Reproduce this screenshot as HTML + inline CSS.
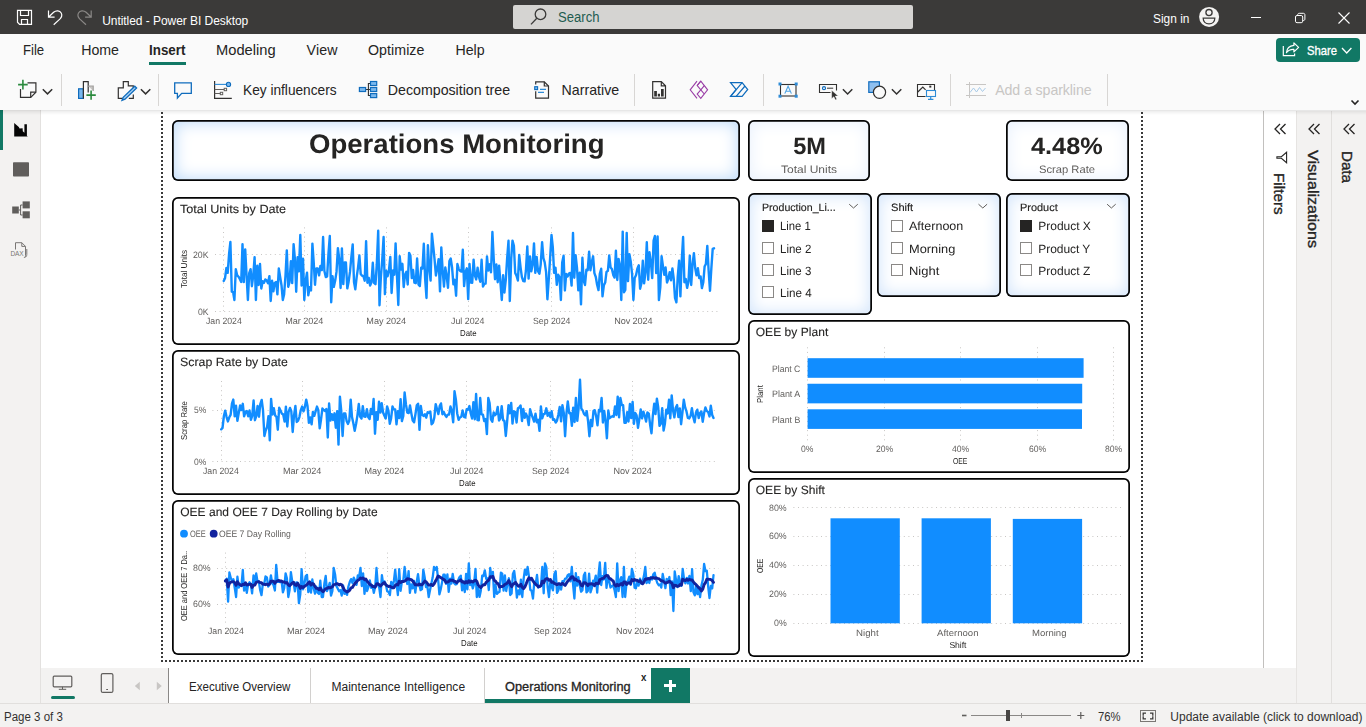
<!DOCTYPE html>
<html><head><meta charset="utf-8"><title>Untitled - Power BI Desktop</title>
<style>
html,body{margin:0;padding:0}
body{width:1366px;height:727px;overflow:hidden;position:relative;background:#fff;font-family:"Liberation Sans",sans-serif;color:#252423}
.a{position:absolute}
.t{position:absolute;white-space:nowrap;line-height:1}
#titlebar{left:0;top:0;width:1366px;height:34px;background:#3b3a39}
#menubar{left:0;top:34px;width:1366px;height:76px;background:#fafafa}
#ribshadow{left:0;top:110px;width:1366px;height:5px;background:linear-gradient(rgba(0,0,0,.11),rgba(0,0,0,.05) 35%,rgba(0,0,0,0))}
.menu{font-size:14.5px;top:43px;color:#252423}
.rt{font-size:14.5px;top:83px;color:#252423}
.sep{position:absolute;top:74px;width:1px;height:32px;background:#d8d6d4}
#leftbar{left:0;top:110px;width:41px;height:593px;background:#f3f2f1}
#status{left:0;top:703px;width:1366px;height:24px;background:#f3f2f1;border-top:1px solid #e1dfdd;box-sizing:border-box}
#tabbar{left:41px;top:668px;width:1223px;height:35px;background:#f3f2f1}
.tab{position:absolute;top:0;height:35px;background:#fff;border-right:1px solid #d2d0ce;box-sizing:border-box;font-size:12.5px}
.vbox{position:absolute;box-sizing:border-box;border-radius:6px;background:#fff}
svg{position:absolute;overflow:visible}
</style></head>
<body>

<!-- ===== title bar ===== -->
<div id="titlebar" class="a"></div>
<svg class="a" style="left:0;top:0" width="1366" height="34" viewBox="0 0 1366 34" fill="none" stroke="#fff" stroke-width="1.2">
 <!-- save -->
 <path d="M17.500 10.300H31.500V24.300H19.600L17.500 22.200Z M20.500 10.300V15.500H28.500V10.300 M21.500 24.300V19.500H27.500V24.300" stroke-linejoin="miter"/>
 <!-- undo -->
 <path d="M48.5 10.4 L48.5 17.1 L54.6 17.1 M48.9 16.7 L53.6 12.3 C56.2 10.0 59.8 10.5 61.2 13.0 C62.4 15.2 61.7 17.2 59.8 19.1 L53.7 24.7" stroke-linejoin="miter"/>
 <!-- redo -->
 <path stroke="#8a8886" d="M91.2 10.4 L91.2 17.1 L85.1 17.1 M90.8 16.7 L86.1 12.3 C83.5 10.0 79.9 10.5 78.5 13.0 C77.3 15.2 78.0 17.2 79.9 19.1 L86.0 24.7" stroke-linejoin="miter"/>
 <!-- search box -->
 <rect x="513" y="5" width="400" height="24" rx="2" fill="#d5d4d2" stroke="none"/>
 <circle cx="540.5" cy="14.3" r="5.3" stroke="#3b3a39" stroke-width="1.3"/>
 <path d="M536.8 18.2L531 24.4" stroke="#3b3a39" stroke-width="1.3"/>
 <!-- avatar -->
 <circle cx="1209.100" cy="16.900" r="10" fill="#f3f2f1" stroke="none"/>
 <circle cx="1209" cy="12.6" r="3.1" stroke="#3b3a39" stroke-width="1.3"/>
 <path d="M1203.2 18.2h11.6c0 3.4-2.4 5.6-5.8 5.6s-5.8-2.2-5.8-5.6z" stroke="#3b3a39" stroke-width="1.3"/>
 <!-- window controls -->
 <path d="M1251 17.5h10" stroke-width="1"/>
 <rect x="1295.500" y="15.500" width="7.200" height="7.200" rx="1.500" stroke-width="1"/>
 <path d="M1297.700 15.500v-.7c0-.9.6-1.500 1.500-1.500h4.200c.9 0 1.500.6 1.500 1.500v4.200c0 .9-.6 1.500-1.500 1.500h-.7" stroke-width="1"/>
 <path d="M1338.500 12.500l11 11M1349.500 12.500l-11 11" stroke-width="1.100"/>
</svg>

<!-- ===== menu bar + ribbon ===== -->
<div id="menubar" class="a"></div>
<div class="a" style="left:149px;top:62px;width:37px;height:3px;background:#117865"></div>
<!-- share -->
<div class="a" style="left:1276px;top:38px;width:84px;height:24px;background:#117865;border-radius:4px"></div>
<svg class="a" style="left:0;top:34px" width="1366" height="76" viewBox="0 34 1366 76" fill="none" stroke="#fff" stroke-width="1.2">
 <path d="M1283.300 46V55.700H1294.600V53.500" stroke-linejoin="miter"/>
 <path d="M1293.900 42.900L1298.600 47.400L1293.900 51.900V49.400C1290.600 49.200 1288.200 50.300 1286.400 52.700C1286.800 48.600 1289.600 45.800 1293.900 45.400Z" stroke-linejoin="round"/>
 <path d="M1342 48l4.700 5l4.700-5" stroke-width="1.300"/>
 <path d="M1351.500 100.500l3.500 3.500l3.500-3.500" stroke="#252423" stroke-width="1.6"/>
</svg>
<div class="sep" style="left:61px"></div>
<div class="sep" style="left:158px"></div>
<div class="sep" style="left:634px"></div>
<div class="sep" style="left:763px"></div>
<div class="sep" style="left:950px"></div>
<div class="sep" style="left:1107px"></div>

<svg class="a" style="left:0;top:68px" width="1366" height="42" viewBox="0 68 1366 42" fill="none" stroke="#323130" stroke-width="1.2">
 <!-- new page -->
 <path d="M27.5 82.800h8.400v9.400l-5.200 5.200h-10.200v-8.400"/>
 <path d="M35.900 92.200h-5.200v5.200" />
 <path d="M22.900 79.800v9.600M18.100 84.600h9.600" stroke="#2b8a3e" stroke-width="1.6"/>
 <path d="M42.800 89.200l4.700 4.700l4.700-4.700" stroke-width="1.5"/>
 <!-- new visual -->
 <rect x="78.600" y="88.800" width="4.800" height="9.600" fill="#7ab8ee" stroke="#0f6cbd"/>
 <path d="M83.400 98.400v-16.800h4.800v11"/>
 <path d="M88.200 86h5v5" stroke="#a19f9d" fill="#c8c6c4"/>
 <path d="M91.100 90.400v9.400M86.400 95.100h9.400" stroke="#2b8a3e" stroke-width="1.6"/>
 <!-- format visual -->
 <path d="M123.500 98.400h-5.200v-10.600h5v-6.200h5v4.200h5v4.500 M133.300 94.500v3.900h-4.500"/>
 <path d="M134.800 86.200l1.800 1.800l-11.600 11.200l-3 1.200l1.200-3z" stroke="#0f6cbd" fill="#a9d1f5" stroke-width="1.300"/>
 <path d="M140.900 89.200l4.700 4.700l4.700-4.700" stroke-width="1.5"/>
 <!-- comment (Q&A) -->
 <path d="M174.700 82.800h16.600v10.600h-9.600l-4.300 4.600v-4.600h-2.700z" stroke="#0f6cbd" stroke-width="1.300"/>
 <!-- key influencers -->
 <path d="M214.600 81v17.400h17.200"/>
 <path d="M214.600 84.400h11.600" stroke="#2e8bd6" stroke-width="1.1"/>
 <circle cx="228.500" cy="84.400" r="2.100" fill="#7ab8ee" stroke="#0f6cbd" stroke-width="1.100"/>
 <path d="M214.600 89.500h9.600M214.600 93.500h5.700" stroke="#605e5c" stroke-width="1"/>
 <rect x="224.200" y="88.300" width="2.400" height="2.400" stroke="#605e5c" stroke-width="1"/>
 <rect x="220.300" y="92.300" width="2.400" height="2.400" stroke="#605e5c" stroke-width="1"/>
 <!-- decomposition tree -->
 <path d="M366 89.500h4 M370 83.500h-1.600v12h1.600" stroke-width="1.100"/>
 <rect x="359.400" y="87.500" width="6.200" height="4" fill="#7ab8ee" stroke="#0f6cbd"/>
 <rect x="370.500" y="81.500" width="6.200" height="4" fill="#7ab8ee" stroke="#0f6cbd"/>
 <rect x="370.500" y="87.500" width="6.200" height="4" fill="#7ab8ee" stroke="#0f6cbd"/>
 <rect x="370.500" y="93.600" width="6.200" height="4" fill="#7ab8ee" stroke="#0f6cbd"/>
 <!-- narrative -->
 <path d="M535.700 84.600v-2.800h8.600l4.200 4.200v12.200h-12.800v-7"/>
 <path d="M544.300 81.800v4.200h4.200"/>
 <rect x="534.700" y="86.700" width="2.900" height="2.900" fill="#7ab8ee" stroke="#0f6cbd" stroke-width="1.100"/>
 <path d="M540 89.400h6M538 92.400h6" stroke="#2e8bd6" stroke-width="1.100"/>
 <!-- paginated report -->
 <path d="M652.700 81.600h8.600l4.200 4.200v12.400h-12.800z M661.300 81.600v4.200h4.200"/>
 <path d="M654.200 91h2.700v5.600h-2.700z M657.800 93.800h2.200v2.800h-2.200z M661 89h2.700v7.600h-2.700z" fill="#323130" stroke="none"/>
 <!-- power apps -->
 <g stroke="#9a3ea6" stroke-width="1.100">
 <path d="M697 81.200l-6.800 8.600l6.800 8.600"/>
 <path d="M700.800 81.200l6.800 8.600l-6.800 8.600l-3.600-4.300l3.600-4.300l-3.600-4.300z"/>
 <path d="M697.200 85.500l3.600-4.300 M700.800 89.800l3.500-4.200 M700.800 89.800l3.500 4.200"/>
 </g>
 <!-- power automate -->
 <g stroke="#0f6cbd" stroke-width="1.200">
 <path d="M730.500 82.600h11.600l5.600 6.900l-5.600 6.900h-11.600l5.700-6.900z"/>
 <path d="M742.100 82.600l-11.300 13.600 M745 86l-8.800 10.400"/>
 </g>
 <!-- text box -->
 <rect x="780.500" y="84.500" width="15.500" height="11.500" stroke-width="1.100"/>
 <g fill="#2e8bd6" stroke="none"><rect x="778.500" y="82.500" width="3" height="3"/><rect x="794.700" y="82.500" width="3" height="3"/><rect x="778.500" y="94.700" width="3" height="3"/><rect x="794.700" y="94.700" width="3" height="3"/></g>
 <path d="M784.800 93.600l3.300-7.400l3.300 7.400 M786 91.200h4.200" stroke="#4ea3e4" stroke-width="1.100"/>
 <!-- buttons -->
 <path d="M830.500 92.500H819.500V84.500H836.500V90.500" stroke-width="1.100"/>
 <circle cx="824" cy="88.200" r="1.500" stroke="#0f6cbd"/>
 <path d="M827 88.200h6.200" stroke-width="1"/>
 <path d="M831.600 90.200v8.600l2.200-2l1.600 3.200l1.500-.7l-1.600-3.200h3z" fill="#323130" stroke="#fff" stroke-width=".5"/>
 <path d="M842.900 89.300l4.700 4.700l4.700-4.700" stroke-width="1.500"/>
 <!-- shapes -->
 <rect x="868.800" y="81.800" width="10.600" height="10.600" fill="#8ec0f0" stroke="#0f6cbd"/>
 <circle cx="879.500" cy="92.300" r="6.100" fill="#fafafa"/>
 <path d="M891.900 89.300l4.700 4.700l4.700-4.700" stroke-width="1.500"/>
 <!-- image -->
 <path d="M925.500 96.500H917.500V84.500H934.500V90.500" stroke-width="1.100"/>
 <path d="M917.800 92l5-5l2.800 2.800"/>
 <rect x="929.300" y="85.600" width="2" height="2" fill="#323130" stroke="none"/>
 <rect x="926.500" y="90.500" width="9" height="6" fill="#fafafa" stroke="#2e8bd6" stroke-width="1.100"/>
 <path d="M930.700 96.400v3M928 99.400h5.400" stroke="#2e8bd6"/>
 <!-- sparkline (disabled) -->
 <g stroke="#c8c6c4" stroke-width="1"><path d="M969.500 82v16M966 84.500h20M966 95.500h20"/><path d="M970 92.500l3.500-4.500l3 4l3-4.500l3 4l3-3.500" stroke="#a9cbe8"/></g>
</svg>


<!-- ===== left bar ===== -->
<div id="leftbar" class="a"></div>
<div class="a" style="left:0;top:110px;width:3px;height:40px;background:#117865"></div>
<div class="a" style="left:40px;top:110px;width:1px;height:593px;background:#e3e1df"></div>

<svg class="a" style="left:0;top:110px" width="41" height="160" viewBox="0 110 41 160">
 <path d="M14.200 123.100L18.800 126.900L19.600 128.400L22.600 128.200L22.800 131.200L24.400 132.700V124.300H26.900V135.700L27.800 136.600H14.200Z" fill="#050505"/>
 <rect x="13" y="162.200" width="16" height="14.400" rx=".8" fill="#605e5c"/>
 <g fill="#605e5c"><rect x="12.200" y="206.500" width="6.600" height="7"/><rect x="22.600" y="201.400" width="7.200" height="7"/><rect x="22.600" y="211.300" width="7.200" height="7"/></g>
 <path d="M18.800 210h1.800v-5h2M20.600 210v5h2" fill="none" stroke="#605e5c" stroke-width="1"/>
 <path d="M15.500 249.500v-6.800h6.300l3.700 3.700v9.300c0 1.200-.7 1.800-1.600 1.800 M21.800 242.700v3.700h3.700 M26.800 249v5.400c0 1.600-.7 2.600-2 3" fill="none" stroke="#797775" stroke-width="1"/>
</svg>
<div class="t" style="left:10.500px;top:251px;font-size:6.500px;color:#797775;letter-spacing:-.2px">DAX</div>


<!-- ===== right panes ===== -->
<div class="a" style="left:1263px;top:111px;width:1px;height:557px;background:#c2c0be"></div>
<div class="a" style="left:1296px;top:111px;width:70px;height:592px;background:#f3f2f1"></div>
<div class="a" style="left:1331px;top:111px;width:1px;height:592px;background:#e1dfdd"></div>
<div class="a" style="left:1296px;top:111px;width:1px;height:592px;background:#e6e4e2"></div>

<svg class="a" style="left:1264px;top:111px" width="102" height="150" viewBox="1264 111 102 150" fill="none" stroke="#252423" stroke-width="1.300">
 <path d="M1280 124l-5 5l5 5M1285.500 124l-5 5l5 5"/>
 <path d="M1314 124l-5 5l5 5M1319.500 124l-5 5l5 5"/>
 <path d="M1349 124l-5 5l5 5M1354.500 124l-5 5l5 5"/>
 <path d="M1286.600 152.300V162.700L1281.400 158.300H1276.900V156.700H1281.400Z" stroke-width="1.100" stroke-linejoin="miter"/>
</svg>


<!-- ===== tabs / status ===== -->
<div id="tabbar" class="a"></div>
<div class="a" style="left:1264px;top:668px;width:32px;height:35px;background:#f3f2f1"></div>
<div class="a" style="left:168px;top:668px;width:1px;height:35px;background:#8a8886"></div>
<div class="tab" style="left:169px;top:668px;width:142px"></div>
<div class="tab" style="left:311px;top:668px;width:174px"></div>
<div class="tab" style="left:485px;top:668px;width:166px;border-right:none;border-bottom:4px solid #117865"></div>
<div class="a" style="left:651px;top:668px;width:39px;height:35px;background:#117865"></div>
<div class="a" style="left:664px;top:684px;width:12px;height:3px;background:#fff"></div>
<div class="a" style="left:668.500px;top:679.500px;width:3px;height:12px;background:#fff"></div>

<svg class="a" style="left:41px;top:668px" width="130" height="35" viewBox="41 668 130 35" fill="none" stroke="#605e5c" stroke-width="1.2">
 <rect x="53.200" y="676.200" width="18.600" height="10.600" rx="1"/>
 <path d="M62.500 686.800v2.400M58.800 689.300h7.400" stroke-width="1"/>
 <rect x="51" y="696" width="24" height="3" rx="1.500" fill="#117865" stroke="none"/>
 <rect x="101.300" y="673.600" width="11.600" height="18.800" rx="1.500"/>
 <path d="M106.200 689.500h1.800" stroke-width="1.100"/>
 <path d="M139.800 681.800v8.400l-5-4.200z M156.800 681.800v8.400l5-4.200z" fill="#c8c6c4" stroke="none"/>
</svg>

<div id="status" class="a"></div>

<svg class="a" style="left:950px;top:704px" width="220" height="23" viewBox="950 704 220 23" fill="none" stroke="#605e5c" stroke-width="1">
 <path d="M962 715.500h4.500" stroke-width="1.600"/>
 <path d="M971 715.500h100" stroke="#8a8886"/>
 <path d="M1021.500 713v5" stroke="#8a8886"/>
 <rect x="1006" y="710" width="4" height="11" fill="#484644" stroke="none"/>
 <path d="M1077.300 715.500h7M1080.800 712v7" stroke-width="1.200"/>
 <rect x="1140.500" y="710.500" width="15" height="11" stroke="#7a7774" stroke-width="1"/>
 <path d="M1146 713.200h-2.800v2.600M1150 713.200h2.800v2.600M1146 718.800h-2.800v-2.600M1150 718.800h2.800v-2.600" stroke="#3b3a39" stroke-width="1.300"/>
</svg>

<div class="t" style="left:102.2px;top:15px;font-size:12px;letter-spacing:-0.05px;color:#fff;">Untitled - Power BI Desktop</div>
<div class="t" style="left:557.5px;top:10px;font-size:14px;transform-origin:0 0;transform:scaleX(0.9355);color:#1f5c50;">Search</div>
<div class="t" style="left:1153px;top:13px;font-size:12.8px;transform-origin:0 0;transform:scaleX(0.9300);color:#fff;">Sign in</div>
<div class="t" style="left:22.6px;top:43px;font-size:14.2px;transform-origin:0 0;transform:scaleX(0.9268);color:#252423;">File</div>
<div class="t" style="left:81.2px;top:43px;font-size:14.2px;letter-spacing:-0.02px;color:#252423;">Home</div>
<div class="t" style="left:149.4px;top:43px;font-size:14.2px;transform-origin:0 0;transform:scaleX(0.9420);font-weight:bold;color:#252423;">Insert</div>
<div class="t" style="left:216.4px;top:43px;font-size:14.2px;transform-origin:0 0;transform:scaleX(1.0351);color:#252423;">Modeling</div>
<div class="t" style="left:306.6px;top:43px;font-size:14.2px;letter-spacing:0.1px;color:#252423;">View</div>
<div class="t" style="left:368px;top:43px;font-size:14.2px;letter-spacing:0.06px;color:#252423;">Optimize</div>
<div class="t" style="left:455.4px;top:43px;font-size:14.2px;color:#252423;">Help</div>
<div class="t" style="left:242.6px;top:83px;font-size:14.2px;transform-origin:0 0;transform:scaleX(0.9649);color:#252423;">Key influencers</div>
<div class="t" style="left:387.8px;top:83px;font-size:14.2px;color:#252423;">Decomposition tree</div>
<div class="t" style="left:561.6px;top:83px;font-size:14.2px;color:#252423;">Narrative</div>
<div class="t" style="left:995.2px;top:83px;font-size:14.2px;letter-spacing:-0.1px;color:#c8c6c4;">Add a sparkline</div>
<div class="t" style="left:1307px;top:45px;font-size:12.6px;transform-origin:0 0;transform:scaleX(0.8926);color:#fff;-webkit-text-stroke:.35px #fff;">Share</div>
<div class="t" style="left:189.3px;top:681px;font-size:12px;transform-origin:0 0;transform:scaleX(0.9623);color:#252423;">Executive Overview</div>
<div class="t" style="left:331.4px;top:681px;font-size:12px;letter-spacing:0.04px;color:#252423;">Maintenance Intelligence</div>
<div class="t" style="left:504.8px;top:681px;font-size:12px;transform-origin:0 0;transform:scaleX(1.0638);color:#252423;-webkit-text-stroke:.3px #252423;">Operations Monitoring</div>
<div class="t" style="left:640.8px;top:672px;font-size:10.5px;transform-origin:0 0;transform:scaleX(0.9241);font-weight:bold;color:#252423;">x</div>
<div class="t" style="left:4.3px;top:711px;font-size:12px;transform-origin:0 0;transform:scaleX(0.9594);color:#323130;">Page 3 of 3</div>
<div class="t" style="left:1098.2px;top:711px;font-size:12px;transform-origin:0 0;transform:scaleX(0.9404);color:#323130;">76%</div>
<div class="t" style="left:1170.3px;top:711px;font-size:12px;color:#323130;">Update available (click to download)</div>
<div class="t" style="font-size:15px;color:#252423;left:1287.1px;top:172.8px;transform-origin:0 0;transform:rotate(90deg) scaleX(1.0210);-webkit-text-stroke:.35px #252423;">Filters</div>
<div class="t" style="font-size:15px;color:#252423;left:1320.9px;top:150.2px;transform-origin:0 0;transform:rotate(90deg) scaleX(1.0716);-webkit-text-stroke:.35px #252423;">Visualizations</div>
<div class="t" style="font-size:15px;color:#252423;left:1354.9px;top:150.6px;transform-origin:0 0;transform:rotate(90deg) scaleX(1.0099);-webkit-text-stroke:.35px #252423;">Data</div>

<!-- ===== report canvas ===== -->
<div style="position:absolute;left:0;top:0;width:1366px;height:727px;will-change:transform;text-rendering:geometricPrecision">
<div class="a" style="left:161px;top:112px;width:2px;height:550px;background:repeating-linear-gradient(to bottom,#3a3a3a 0 2px,transparent 2px 4px)"></div>
<div class="a" style="left:1141px;top:112px;width:2px;height:550px;background:repeating-linear-gradient(to bottom,#3a3a3a 0 2px,transparent 2px 4px)"></div>
<div class="a" style="left:161px;top:660px;width:982px;height:2px;background:repeating-linear-gradient(to right,#3a3a3a 0 2px,transparent 2px 4px)"></div>
<div class="vbox" style="left:172.3px;top:120px;width:567.9px;height:61px;box-shadow:inset 0 0 0 1.75px #050505, inset 0 0 16px 3px #bfdbf9"></div>
<div class="t" style="left:309px;top:131px;font-size:26.8px;transform-origin:0 0;transform:scaleX(1.0285);font-weight:bold;color:#252423;">Operations Monitoring</div>
<div class="vbox" style="left:748px;top:119.9px;width:122.4px;height:61.2px;box-shadow:inset 0 0 0 1.75px #050505, inset 0 0 16px 3px #e9f1fd"></div>
<div class="t" style="left:793.2px;top:136px;font-size:23.6px;letter-spacing:0.02px;font-weight:bold;color:#252423;">5M</div>
<div class="t" style="left:781px;top:165px;font-size:10.8px;transform-origin:0 0;transform:scaleX(1.1110);color:#605e5c;">Total Units</div>
<div class="vbox" style="left:1006px;top:119.9px;width:122.5px;height:61.2px;box-shadow:inset 0 0 0 1.75px #050505, inset 0 0 16px 3px #e9f1fd"></div>
<div class="t" style="left:1031.3px;top:136px;font-size:23.6px;transform-origin:0 0;transform:scaleX(1.0716);font-weight:bold;color:#252423;">4.48%</div>
<div class="t" style="left:1039px;top:165px;font-size:10.8px;transform-origin:0 0;transform:scaleX(1.0367);color:#605e5c;">Scrap Rate</div>
<div class="vbox" style="left:748.2px;top:193.4px;width:123.5px;height:121.2px;box-shadow:inset 0 0 0 1.75px #050505, inset 0 0 16px 3px #d3e5fb"></div>
<div class="t" style="left:762px;top:203px;font-size:10.6px;color:#252423;-webkit-text-stroke:.15px #252423;">Production_Li...</div>
<svg style="left:0;top:0" width="1366" height="727"><path d="M849.2 204.200l4.300 3.800l4.300-3.800" fill="none" stroke="#605e5c" stroke-width="1"/></svg>
<div class="a" style="left:762px;top:220px;width:12px;height:12px;background:#252423"></div>
<div class="t" style="left:780.2px;top:220px;font-size:12px;transform-origin:0 0;transform:scaleX(0.9418);color:#252423;">Line 1</div>
<div class="a" style="left:762px;top:242px;width:12px;height:12px;box-shadow:inset 0 0 0 1px #8a8886;background:#fff"></div>
<div class="t" style="left:780.2px;top:243px;font-size:12px;transform-origin:0 0;transform:scaleX(0.9571);color:#252423;">Line 2</div>
<div class="a" style="left:762px;top:264px;width:12px;height:12px;box-shadow:inset 0 0 0 1px #8a8886;background:#fff"></div>
<div class="t" style="left:780.2px;top:265px;font-size:12px;transform-origin:0 0;transform:scaleX(0.9571);color:#252423;">Line 3</div>
<div class="a" style="left:762px;top:286px;width:12px;height:12px;box-shadow:inset 0 0 0 1px #8a8886;background:#fff"></div>
<div class="t" style="left:780.2px;top:287px;font-size:12px;transform-origin:0 0;transform:scaleX(0.9724);color:#252423;">Line 4</div>
<div class="vbox" style="left:877.2px;top:193.4px;width:123.8px;height:103.4px;box-shadow:inset 0 0 0 1.75px #050505, inset 0 0 16px 3px #d3e5fb"></div>
<div class="t" style="left:891px;top:203px;font-size:10.6px;transform-origin:0 0;transform:scaleX(1.0470);color:#252423;-webkit-text-stroke:.15px #252423;">Shift</div>
<svg style="left:0;top:0" width="1366" height="727"><path d="M978.5 204.200l4.300 3.800l4.300-3.800" fill="none" stroke="#605e5c" stroke-width="1"/></svg>
<div class="a" style="left:891px;top:220px;width:12px;height:12px;box-shadow:inset 0 0 0 1px #8a8886;background:#fff"></div>
<div class="t" style="left:909.2px;top:220px;font-size:12px;transform-origin:0 0;transform:scaleX(1.0433);color:#252423;">Afternoon</div>
<div class="a" style="left:891px;top:242px;width:12px;height:12px;box-shadow:inset 0 0 0 1px #8a8886;background:#fff"></div>
<div class="t" style="left:909.2px;top:243px;font-size:12px;transform-origin:0 0;transform:scaleX(1.0678);color:#252423;">Morning</div>
<div class="a" style="left:891px;top:264px;width:12px;height:12px;box-shadow:inset 0 0 0 1px #8a8886;background:#fff"></div>
<div class="t" style="left:909.2px;top:265px;font-size:12px;transform-origin:0 0;transform:scaleX(1.0815);color:#252423;">Night</div>
<div class="vbox" style="left:1006.3px;top:193.4px;width:123.3px;height:103.4px;box-shadow:inset 0 0 0 1.75px #050505, inset 0 0 16px 3px #d3e5fb"></div>
<div class="t" style="left:1020.1px;top:203px;font-size:10.6px;transform-origin:0 0;transform:scaleX(1.0324);color:#252423;-webkit-text-stroke:.15px #252423;">Product</div>
<svg style="left:0;top:0" width="1366" height="727"><path d="M1107.1 204.200l4.300 3.800l4.300-3.800" fill="none" stroke="#605e5c" stroke-width="1"/></svg>
<div class="a" style="left:1020px;top:220px;width:12px;height:12px;background:#252423"></div>
<div class="t" style="left:1038.3px;top:220px;font-size:12px;letter-spacing:-0.03px;color:#252423;">Product X</div>
<div class="a" style="left:1020px;top:242px;width:12px;height:12px;box-shadow:inset 0 0 0 1px #8a8886;background:#fff"></div>
<div class="t" style="left:1038.3px;top:243px;font-size:12px;letter-spacing:-0.06px;color:#252423;">Product Y</div>
<div class="a" style="left:1020px;top:264px;width:12px;height:12px;box-shadow:inset 0 0 0 1px #8a8886;background:#fff"></div>
<div class="t" style="left:1038.3px;top:265px;font-size:12px;color:#252423;">Product Z</div>
<div class="vbox" style="left:172.3px;top:197.2px;width:567.9px;height:147.9px;box-shadow:inset 0 0 0 1.75px #050505"></div>
<div class="t" style="left:180.2px;top:203px;font-size:12px;transform-origin:0 0;transform:scaleX(1.0534);color:#252423;-webkit-text-stroke:.1px #252423;">Total Units by Date</div>
<div class="t" style="font-size:8.6px;color:#252423;left:179.92px;top:288px;transform-origin:0 0;transform:rotate(-90deg) scaleX(0.9520);">Total Units</div>
<div class="t" style="left:192.6px;top:251px;font-size:9.2px;transform-origin:0 0;transform:scaleX(0.9536);color:#605e5c;">20K</div>
<div class="t" style="left:197.6px;top:308px;font-size:9.2px;transform-origin:0 0;transform:scaleX(0.9422);color:#605e5c;">0K</div>
<div class="t" style="left:205.8px;top:317px;font-size:9.1px;transform-origin:0 0;transform:scaleX(0.9567);color:#605e5c;">Jan 2024</div>
<div class="t" style="left:285.2px;top:317px;font-size:9.1px;letter-spacing:-0.03px;color:#605e5c;">Mar 2024</div>
<div class="t" style="left:366.34px;top:317px;font-size:9.1px;letter-spacing:-0.02px;color:#605e5c;">May 2024</div>
<div class="t" style="left:451.48px;top:317px;font-size:9.1px;transform-origin:0 0;transform:scaleX(0.9712);color:#605e5c;">Jul 2024</div>
<div class="t" style="left:532.77px;top:317px;font-size:9.1px;transform-origin:0 0;transform:scaleX(0.9605);color:#605e5c;">Sep 2024</div>
<div class="t" style="left:614.31px;top:317px;font-size:9.1px;letter-spacing:-0.11px;color:#605e5c;">Nov 2024</div>
<svg style="left:0;top:0" width="1366" height="727"><path d="M215 254.5H720.5" stroke="#c8c6c4" stroke-width="1" stroke-dasharray="1 3.600" fill="none"/><path d="M215 311.5H720.5" stroke="#c8c6c4" stroke-width="1" stroke-dasharray="1 3.600" fill="none"/><path d="M223.5 227.4V311" stroke="#c8c6c4" stroke-width="1" stroke-dasharray="1 3.600" fill="none"/><path d="M304.5 227.4V311" stroke="#c8c6c4" stroke-width="1" stroke-dasharray="1 3.600" fill="none"/><path d="M386.5 227.4V311" stroke="#c8c6c4" stroke-width="1" stroke-dasharray="1 3.600" fill="none"/><path d="M468.5 227.4V311" stroke="#c8c6c4" stroke-width="1" stroke-dasharray="1 3.600" fill="none"/><path d="M551.5 227.4V311" stroke="#c8c6c4" stroke-width="1" stroke-dasharray="1 3.600" fill="none"/><path d="M633.5 227.4V311" stroke="#c8c6c4" stroke-width="1" stroke-dasharray="1 3.600" fill="none"/><path d="M223.7 281 L225 278.3 L226.4 268 L227.7 272.9 L229.1 253.7 L230.4 242 L231.8 291.6 L233.1 292.1 L234.4 300 L235.8 269.2 L237.1 275.1 L238.5 276.7 L239.8 279 L241.2 282 L242.5 244.2 L243.8 282.1 L245.2 249.4 L246.5 274 L247.9 300 L249.2 273.2 L250.6 269.2 L251.9 286.2 L253.3 275.2 L254.6 257.2 L255.9 300 L257.3 265.6 L258.6 285 L260 264 L261.3 288.5 L262.7 281.2 L264 282.8 L265.3 279.4 L266.7 280.4 L268 283.3 L269.4 276.1 L270.7 301 L272.1 280.8 L273.4 291.4 L274.7 282.9 L276.1 282 L277.4 294.4 L278.8 268.5 L280.1 276.8 L281.5 285.2 L282.8 300 L284.1 294.4 L285.5 275.5 L286.8 250.4 L288.2 286.8 L289.5 282.2 L290.9 261.3 L292.2 283.1 L293.6 244.1 L294.9 258.9 L296.2 291.8 L297.6 257.3 L298.9 271.4 L300.3 235 L301.6 285.5 L303 258.7 L304.3 300 L305.6 281.1 L307 272.6 L308.3 295.4 L309.7 287.3 L311 290.4 L312.4 243.6 L313.7 262.1 L315 284.8 L316.4 268.4 L317.7 268.5 L319.1 275.4 L320.4 266 L321.8 270.1 L323.1 237 L324.4 271 L325.8 277.1 L327.1 276.4 L328.5 253.2 L329.8 236 L331.2 302.3 L332.5 276.1 L333.8 286.9 L335.2 280.6 L336.5 271.9 L337.9 248.1 L339.2 258.9 L340.6 288 L341.9 248.4 L343.3 284.1 L344.6 262.4 L345.9 262.4 L347.3 288.4 L348.6 281.9 L350 271.7 L351.3 257.6 L352.7 244.4 L354 282 L355.3 289.3 L356.7 276.9 L358 267.8 L359.4 255.5 L360.7 273.9 L362.1 275.7 L363.4 276.1 L364.7 280.7 L366.1 241.2 L367.4 282.7 L368.8 277.9 L370.1 285.6 L371.5 282.3 L372.8 262.8 L374.1 282.8 L375.5 284.2 L376.8 264.2 L378.2 230.8 L379.5 305.3 L380.9 276.8 L382.2 260.3 L383.6 237 L384.9 294.1 L386.2 270.7 L387.6 276.3 L388.9 270.5 L390.3 256.9 L391.6 293 L393 270.4 L394.3 274.7 L395.6 243.4 L397 276.8 L398.3 305 L399.7 256.3 L401 269.6 L402.4 263.8 L403.7 287 L405 274.9 L406.4 271.8 L407.7 284.5 L409.1 252.9 L410.4 255.5 L411.8 278.1 L413.1 270 L414.4 282.7 L415.8 283.2 L417.1 258.5 L418.5 284.4 L419.8 286.1 L421.2 267.6 L422.5 268.6 L423.8 243.7 L425.2 279.6 L426.5 298 L427.9 245.3 L429.2 267.2 L430.6 280.6 L431.9 233.7 L433.3 246.9 L434.6 259.8 L435.9 275.5 L437.3 268.3 L438.6 259.1 L440 291.4 L441.3 247.4 L442.7 271.2 L444 286.6 L445.3 267.5 L446.7 276.5 L448 287.8 L449.4 261 L450.7 258.5 L452.1 267.8 L453.4 284.4 L454.7 279.8 L456.1 295.7 L457.4 264 L458.8 269.1 L460.1 270.9 L461.5 271.6 L462.8 249.7 L464.1 286.1 L465.5 271.8 L466.8 268.3 L468.2 299.1 L469.5 263.9 L470.9 282.6 L472.2 282.8 L473.6 259.6 L474.9 275.5 L476.2 279.4 L477.6 267.6 L478.9 276.8 L480.3 281.8 L481.6 259.7 L483 286.6 L484.3 283.9 L485.6 283.6 L487 256.5 L488.3 270.6 L489.7 264.3 L491 272.2 L492.4 232 L493.7 258.3 L495 279.2 L496.4 264.5 L497.7 282.2 L499.1 265.7 L500.4 282.2 L501.8 300 L503.1 275.2 L504.4 292.5 L505.8 279.9 L507.1 258.8 L508.5 240.8 L509.8 301 L511.2 258.9 L512.5 240.6 L513.9 245.9 L515.2 273 L516.5 275.6 L517.9 280.5 L519.2 255 L520.6 267.6 L521.9 277.1 L523.3 281.1 L524.6 281.4 L525.9 270.7 L527.3 246.4 L528.6 278.6 L530 256.4 L531.3 271.3 L532.7 264.3 L534 243.4 L535.3 272.9 L536.7 257 L538 271.1 L539.4 273.8 L540.7 264.7 L542.1 242.2 L543.4 258 L544.7 262.4 L546.1 272.1 L547.4 299.3 L548.8 278.6 L550.1 258.4 L551.5 235 L552.8 247.2 L554.1 272.9 L555.5 267.7 L556.8 284.8 L558.2 274.7 L559.5 277.1 L560.9 300 L562.2 262.4 L563.6 255.7 L564.9 290.5 L566.2 274 L567.6 276.5 L568.9 273.6 L570.3 272.9 L571.6 285.6 L573 232.9 L574.3 277.7 L575.6 255.1 L577 267.9 L578.3 290.4 L579.7 272.8 L581 304.4 L582.4 257.8 L583.7 281 L585 285 L586.4 269.6 L587.7 270.3 L589.1 251.8 L590.4 270.2 L591.8 262 L593.1 256.3 L594.4 273.2 L595.8 277 L597.1 284.7 L598.5 290.1 L599.8 273.9 L601.2 268.7 L602.5 296.4 L603.9 285.1 L605.2 282.5 L606.5 271.9 L607.9 270.8 L609.2 255.5 L610.6 267.4 L611.9 269 L613.3 275.1 L614.6 277.6 L615.9 250.8 L617.3 280 L618.6 258.9 L620 265.4 L621.3 300 L622.7 231.6 L624 292.3 L625.3 289.9 L626.7 232.9 L628 281.1 L629.4 254.2 L630.7 261.1 L632.1 274.2 L633.4 300 L634.7 277.9 L636.1 275 L637.4 268.5 L638.8 265.3 L640.1 288.8 L641.5 282.9 L642.8 260.7 L644.1 283.4 L645.5 272.3 L646.8 242.2 L648.2 279.8 L649.5 252.3 L650.9 262.5 L652.2 278.1 L653.6 240.5 L654.9 236 L656.2 273.1 L657.6 236.5 L658.9 300 L660.3 287.4 L661.6 256.3 L663 266.5 L664.3 274.7 L665.6 267.5 L667 282.5 L668.3 278.8 L669.7 272.1 L671 280.3 L672.4 268.4 L673.7 278.3 L675 297.8 L676.4 302.3 L677.7 277.2 L679.1 260.6 L680.4 296.4 L681.8 259.9 L683.1 237 L684.4 282.2 L685.8 279 L687.1 287.9 L688.5 281.6 L689.8 255.6 L691.2 285 L692.5 264.8 L693.9 253.2 L695.2 268.1 L696.5 275.4 L697.9 268.3 L699.2 278.1 L700.6 276.4 L701.9 288.1 L703.3 282.3 L704.6 266.6 L705.9 263.9 L707.3 245.9 L708.6 270.2 L710 290.8 L711.3 269.1 L712.7 248.9 L714 248.3" fill="none" stroke="#118DFF" stroke-width="2.4" stroke-linejoin="round" stroke-linecap="round"/></svg>
<div class="t" style="left:459.6px;top:329px;font-size:8.6px;transform-origin:0 0;transform:scaleX(0.9143);color:#252423;">Date</div>
<div class="vbox" style="left:172.3px;top:350px;width:567.9px;height:145.1px;box-shadow:inset 0 0 0 1.75px #050505"></div>
<div class="t" style="left:180.2px;top:356px;font-size:12px;transform-origin:0 0;transform:scaleX(1.0294);color:#252423;-webkit-text-stroke:.1px #252423;">Scrap Rate by Date</div>
<div class="t" style="font-size:8.6px;color:#252423;left:179.92px;top:439.9px;transform-origin:0 0;transform:rotate(-90deg) scaleX(0.9023);">Scrap Rate</div>
<div class="t" style="left:193.5px;top:406px;font-size:9.2px;transform-origin:0 0;transform:scaleX(0.9261);color:#605e5c;">5%</div>
<div class="t" style="left:193.5px;top:458px;font-size:9.2px;transform-origin:0 0;transform:scaleX(0.9261);color:#605e5c;">0%</div>
<div class="t" style="left:203.3px;top:467px;font-size:9.1px;transform-origin:0 0;transform:scaleX(0.9567);color:#605e5c;">Jan 2024</div>
<div class="t" style="left:283.04px;top:467px;font-size:9.1px;letter-spacing:-0.03px;color:#605e5c;">Mar 2024</div>
<div class="t" style="left:364.53px;top:467px;font-size:9.1px;letter-spacing:-0.02px;color:#605e5c;">May 2024</div>
<div class="t" style="left:450.02px;top:467px;font-size:9.1px;transform-origin:0 0;transform:scaleX(0.9712);color:#605e5c;">Jul 2024</div>
<div class="t" style="left:531.66px;top:467px;font-size:9.1px;transform-origin:0 0;transform:scaleX(0.9605);color:#605e5c;">Sep 2024</div>
<div class="t" style="left:613.54px;top:467px;font-size:9.1px;letter-spacing:-0.11px;color:#605e5c;">Nov 2024</div>
<svg style="left:0;top:0" width="1366" height="727"><path d="M212.4 410.5H717.5" stroke="#c8c6c4" stroke-width="1" stroke-dasharray="1 3.600" fill="none"/><path d="M212.4 461.5H717.5" stroke="#c8c6c4" stroke-width="1" stroke-dasharray="1 3.600" fill="none"/><path d="M221.5 381V461.2" stroke="#c8c6c4" stroke-width="1" stroke-dasharray="1 3.600" fill="none"/><path d="M302.5 381V461.2" stroke="#c8c6c4" stroke-width="1" stroke-dasharray="1 3.600" fill="none"/><path d="M384.5 381V461.2" stroke="#c8c6c4" stroke-width="1" stroke-dasharray="1 3.600" fill="none"/><path d="M466.5 381V461.2" stroke="#c8c6c4" stroke-width="1" stroke-dasharray="1 3.600" fill="none"/><path d="M550.5 381V461.2" stroke="#c8c6c4" stroke-width="1" stroke-dasharray="1 3.600" fill="none"/><path d="M632.5 381V461.2" stroke="#c8c6c4" stroke-width="1" stroke-dasharray="1 3.600" fill="none"/><path d="M221.2 429.3 L222.5 428 L223.9 416 L225.2 410.6 L226.6 417.1 L227.9 421.4 L229.3 417.3 L230.6 414.9 L232 403.5 L233.3 399.6 L234.7 416.4 L236 405.6 L237.4 420.8 L238.7 413.3 L240.1 405.5 L241.4 410.1 L242.8 403.8 L244.1 416.3 L245.5 411.8 L246.8 411.1 L248.2 416.3 L249.5 410.4 L250.9 419.8 L252.2 415.8 L253.6 400.5 L254.9 420.2 L256.3 416 L257.6 406 L259 416.7 L260.3 404.1 L261.7 399.9 L263 410.2 L264.4 436 L265.7 430.5 L267.1 426.8 L268.4 416.3 L269.8 440.4 L271.1 398.9 L272.5 414.5 L273.8 408.2 L275.2 415.4 L276.5 417 L277.8 429.7 L279.2 407.7 L280.5 410.4 L281.9 413.7 L283.2 414.4 L284.6 421.6 L285.9 406.6 L287.3 426.5 L288.6 411.8 L290 408 L291.3 411.3 L292.7 432 L294 415.7 L295.4 405.9 L296.7 422 L298.1 420.6 L299.4 417.1 L300.8 410.1 L302.1 406.6 L303.5 411.3 L304.8 407.2 L306.2 399.6 L307.5 405.9 L308.9 422.8 L310.2 417.5 L311.6 424.3 L312.9 412 L314.3 415.8 L315.6 411.3 L317 406.6 L318.3 410.2 L319.7 428.4 L321 419.7 L322.4 408.5 L323.7 410 L325.1 411 L326.4 409 L327.8 437.5 L329.1 403.5 L330.5 420.6 L331.8 414.3 L333.1 420 L334.5 413.3 L335.8 427.7 L337.2 411.1 L338.5 444.6 L339.9 396.7 L341.2 410.4 L342.6 436 L343.9 413.4 L345.3 413.5 L346.6 420.9 L348 423.9 L349.3 420.5 L350.7 399.6 L352 417.1 L353.4 423.5 L354.7 430.8 L356.1 423.8 L357.4 415.6 L358.8 404 L360.1 416.6 L361.5 418.5 L362.8 406.2 L364.2 416.5 L365.5 416.7 L366.9 409.2 L368.2 417.1 L369.6 419.1 L370.9 408.9 L372.3 414 L373.6 399 L375 433.7 L376.3 412.3 L377.7 419.7 L379 401.8 L380.4 412.6 L381.7 403.2 L383.1 412.5 L384.4 415.8 L385.7 418.5 L387.1 406.4 L388.4 410.5 L389.8 423.8 L391.1 418.4 L392.5 406.5 L393.8 409.4 L395.2 409.5 L396.5 424.4 L397.9 411.3 L399.2 418.1 L400.6 399.1 L401.9 421.1 L403.3 415.9 L404.6 392.5 L406 404.7 L407.3 412.5 L408.7 413 L410 405.5 L411.4 413.6 L412.7 420.4 L414.1 422.2 L415.4 414.5 L416.8 405.2 L418.1 403.7 L419.5 429.9 L420.8 406 L422.2 414.9 L423.5 415.9 L424.9 414.2 L426.2 417.7 L427.6 412.2 L428.9 412.8 L430.3 411.6 L431.6 424.3 L433 422.7 L434.3 417.6 L435.7 404.1 L437 409.1 L438.4 414.1 L439.7 406.1 L441 403.4 L442.4 414.2 L443.7 411.9 L445.1 415 L446.4 416.9 L447.8 414.6 L449.1 414.5 L450.5 406.5 L451.8 410.8 L453.2 422.3 L454.5 391.2 L455.9 399.8 L457.2 413.4 L458.6 419.8 L459.9 417.5 L461.3 416.8 L462.6 410.5 L464 416.8 L465.3 417.4 L466.7 409.1 L468 409.8 L469.4 406.1 L470.7 413.3 L472.1 418.5 L473.4 402.1 L474.8 419.3 L476.1 394 L477.5 420.1 L478.8 420.3 L480.2 398 L481.5 414.4 L482.9 414.6 L484.2 421 L485.6 419.1 L486.9 434.1 L488.3 398 L489.6 403 L491 419.5 L492.3 421.7 L493.7 412.4 L495 415.2 L496.3 413.9 L497.7 406.9 L499 420.5 L500.4 418.4 L501.7 406.2 L503.1 420.2 L504.4 420.9 L505.8 436 L507.1 421.9 L508.5 405.3 L509.8 413.2 L511.2 402.9 L512.5 423.6 L513.9 411.3 L515.2 412 L516.6 422.5 L517.9 408.3 L519.3 407.4 L520.6 405.5 L522 421 L523.3 408.9 L524.7 417.8 L526 413.6 L527.4 417.2 L528.7 425.1 L530.1 409.2 L531.4 414 L532.8 417.8 L534.1 421.6 L535.5 413.8 L536.8 422.4 L538.2 419.8 L539.5 430.9 L540.9 406.4 L542.2 418.3 L543.6 414.1 L544.9 413.8 L546.3 408.3 L547.6 415.8 L549 412.7 L550.3 416.9 L551.6 411.2 L553 419.9 L554.3 419.3 L555.7 422.6 L557 420.5 L558.4 414.4 L559.7 407 L561.1 421.4 L562.4 405.3 L563.8 412.9 L565.1 436.2 L566.5 412.9 L567.8 401.5 L569.2 413.2 L570.5 412.9 L571.9 425.8 L573.2 407.7 L574.6 422 L575.9 398 L577.3 420.9 L578.6 408.3 L580 379.8 L581.3 408.5 L582.7 410.4 L584 413.9 L585.4 415.3 L586.7 411.2 L588.1 421.4 L589.4 436.2 L590.8 420 L592.1 426.1 L593.5 410.8 L594.8 410.2 L596.2 416.5 L597.5 425.3 L598.9 410 L600.2 411.3 L601.6 398 L602.9 422.5 L604.2 410.9 L605.6 421.4 L606.9 438.3 L608.3 410.5 L609.6 418.2 L611 417 L612.3 416.3 L613.7 416.7 L615 406.4 L616.4 415 L617.7 396.7 L619.1 417.3 L620.4 398 L621.8 405.1 L623.1 405.2 L624.5 422.8 L625.8 422.8 L627.2 412.2 L628.5 421.5 L629.9 404 L631.2 418.1 L632.6 401.9 L633.9 423.9 L635.3 413 L636.6 415.3 L638 427.9 L639.3 419.2 L640.7 409.5 L642 418.4 L643.4 411.7 L644.7 415.7 L646.1 421.5 L647.4 412.5 L648.8 413.6 L650.1 424.7 L651.5 433.2 L652.8 416 L654.2 403.8 L655.5 414.1 L656.9 398.7 L658.2 407.2 L659.5 425.9 L660.9 423.6 L662.2 408.1 L663.6 430.6 L664.9 423.7 L666.3 409.7 L667.6 413.4 L669 399.8 L670.3 418.3 L671.7 395.4 L673 410.2 L674.4 417.4 L675.7 407.7 L677.1 405.1 L678.4 417 L679.8 408.4 L681.1 424.2 L682.5 411.9 L683.8 399.6 L685.2 407.6 L686.5 411.4 L687.9 417.9 L689.2 418.4 L690.6 415.9 L691.9 408.1 L693.3 417.3 L694.6 422.3 L696 412.6 L697.3 409.7 L698.7 418.1 L700 413.1 L701.4 411.4 L702.7 421.7 L704.1 413.1 L705.4 407.4 L706.8 411.1 L708.1 411.9 L709.5 416.4 L710.8 405.6 L712.2 415 L713.5 418" fill="none" stroke="#118DFF" stroke-width="2.4" stroke-linejoin="round" stroke-linecap="round"/></svg>
<div class="t" style="left:458.6px;top:479px;font-size:8.6px;transform-origin:0 0;transform:scaleX(0.9143);color:#252423;">Date</div>
<div class="vbox" style="left:172.3px;top:500.2px;width:567.9px;height:154.9px;box-shadow:inset 0 0 0 1.75px #050505"></div>
<div class="t" style="left:180.2px;top:506px;font-size:12px;letter-spacing:0.02px;color:#252423;-webkit-text-stroke:.1px #252423;">OEE and OEE 7 Day Rolling by Date</div>
<div class="t" style="font-size:8.6px;color:#252423;left:179.92px;top:620.9px;transform-origin:0 0;transform:rotate(-90deg) scaleX(0.8683);">OEE and OEE 7 Da..</div>
<div class="t" style="left:192.7px;top:564px;font-size:9.2px;transform-origin:0 0;transform:scaleX(0.9624);color:#605e5c;">80%</div>
<div class="t" style="left:192.7px;top:600px;font-size:9.2px;transform-origin:0 0;transform:scaleX(0.9624);color:#605e5c;">60%</div>
<div class="t" style="left:207.5px;top:627px;font-size:9.1px;transform-origin:0 0;transform:scaleX(0.9567);color:#605e5c;">Jan 2024</div>
<div class="t" style="left:286.9px;top:627px;font-size:9.1px;letter-spacing:-0.03px;color:#605e5c;">Mar 2024</div>
<div class="t" style="left:368.04px;top:627px;font-size:9.1px;letter-spacing:-0.02px;color:#605e5c;">May 2024</div>
<div class="t" style="left:453.18px;top:627px;font-size:9.1px;transform-origin:0 0;transform:scaleX(0.9712);color:#605e5c;">Jul 2024</div>
<div class="t" style="left:534.47px;top:627px;font-size:9.1px;transform-origin:0 0;transform:scaleX(0.9605);color:#605e5c;">Sep 2024</div>
<div class="t" style="left:616.01px;top:627px;font-size:9.1px;letter-spacing:-0.11px;color:#605e5c;">Nov 2024</div>
<svg style="left:0;top:0" width="1366" height="727"><path d="M217 568.5H718.7" stroke="#c8c6c4" stroke-width="1" stroke-dasharray="1 3.600" fill="none"/><path d="M217 604.5H718.7" stroke="#c8c6c4" stroke-width="1" stroke-dasharray="1 3.600" fill="none"/><path d="M225.5 552.6V624.4" stroke="#c8c6c4" stroke-width="1" stroke-dasharray="1 3.600" fill="none"/><path d="M305.5 552.6V624.4" stroke="#c8c6c4" stroke-width="1" stroke-dasharray="1 3.600" fill="none"/><path d="M387.5 552.6V624.4" stroke="#c8c6c4" stroke-width="1" stroke-dasharray="1 3.600" fill="none"/><path d="M469.5 552.6V624.4" stroke="#c8c6c4" stroke-width="1" stroke-dasharray="1 3.600" fill="none"/><path d="M553.5 552.6V624.4" stroke="#c8c6c4" stroke-width="1" stroke-dasharray="1 3.600" fill="none"/><path d="M635.5 552.6V624.4" stroke="#c8c6c4" stroke-width="1" stroke-dasharray="1 3.600" fill="none"/><path d="M225.4 580.9 L226.7 578.6 L228.1 601.6 L229.4 572.4 L230.7 577.7 L232.1 580.5 L233.4 579.3 L234.8 588.3 L236.1 597 L237.4 576.7 L238.8 587.5 L240.1 584.4 L241.4 586 L242.8 570 L244.1 590.6 L245.5 584 L246.8 592.8 L248.1 584.6 L249.5 582.3 L250.8 584.4 L252.1 593.3 L253.5 575.5 L254.8 582.7 L256.2 573.4 L257.5 581.4 L258.8 581.2 L260.2 590.3 L261.5 595.2 L262.8 584.2 L264.2 584.2 L265.5 576.5 L266.9 577.4 L268.2 586.5 L269.5 584.8 L270.9 575.3 L272.2 583.5 L273.5 584.9 L274.9 590.5 L276.2 564.8 L277.6 581.8 L278.9 581.9 L280.2 582 L281.6 581.4 L282.9 592.4 L284.2 588.1 L285.6 573.4 L286.9 578.4 L288.3 597 L289.6 590 L290.9 572.1 L292.3 582 L293.6 582.9 L294.9 591.3 L296.3 582.5 L297.6 582.6 L298.9 603.2 L300.3 594.2 L301.6 569.1 L303 589.4 L304.3 584.6 L305.6 576.4 L307 574.9 L308.3 592.1 L309.6 585.2 L311 592.6 L312.3 579.5 L313.7 588.3 L315 593.7 L316.3 586.7 L317.7 592.7 L319 594 L320.3 580.7 L321.7 597 L323 597 L324.4 583.2 L325.7 575.9 L327 591.1 L328.4 587.6 L329.7 582.9 L331 595.7 L332.4 590.9 L333.7 567.9 L335.1 574.5 L336.4 586.2 L337.7 588.4 L339.1 591.3 L340.4 590.1 L341.7 595.6 L343.1 585.3 L344.4 593.9 L345.8 593 L347.1 594.8 L348.4 586.5 L349.8 581.8 L351.1 579.1 L352.4 583 L353.8 577.6 L355.1 580.6 L356.5 584.8 L357.8 575.4 L359.1 576.9 L360.5 567.8 L361.8 586 L363.1 573.3 L364.5 593.8 L365.8 580.3 L367.1 591 L368.5 586.9 L369.8 580.5 L371.2 587.8 L372.5 585.6 L373.8 592.9 L375.2 586.8 L376.5 568 L377.8 584.5 L379.2 587.4 L380.5 597 L381.9 575.2 L383.2 584.1 L384.5 581.4 L385.9 584.6 L387.2 591.3 L388.5 591.9 L389.9 595.1 L391.2 581.8 L392.6 588.2 L393.9 580.9 L395.2 569.6 L396.6 583.9 L397.9 595 L399.2 569.2 L400.6 590.8 L401.9 581.3 L403.3 580.5 L404.6 567 L405.9 578.1 L407.3 584 L408.6 571.1 L409.9 592.9 L411.3 584.3 L412.6 588.4 L414 580.8 L415.3 592.7 L416.6 582.5 L418 574.2 L419.3 584.5 L420.6 590.2 L422 589.1 L423.3 569.6 L424.7 577.4 L426 587 L427.3 585.6 L428.7 597 L430 590.2 L431.3 583.7 L432.7 577.3 L434 567 L435.3 569.8 L436.7 567 L438 577.9 L439.4 594.4 L440.7 589.5 L442 582.6 L443.4 574.6 L444.7 574.7 L446 583.9 L447.4 574.3 L448.7 591.9 L450.1 578.6 L451.4 583.6 L452.7 573.9 L454.1 583 L455.4 584.5 L456.7 584.1 L458.1 580.4 L459.4 577.2 L460.8 575.7 L462.1 590.3 L463.4 581.5 L464.8 592 L466.1 573.8 L467.4 589.3 L468.8 563.4 L470.1 585 L471.5 582.6 L472.8 588.4 L474.1 583.9 L475.5 568.8 L476.8 597 L478.1 587.6 L479.5 596.9 L480.8 590.7 L482.2 575.6 L483.5 576 L484.8 570.3 L486.2 578.9 L487.5 578.4 L488.8 590 L490.2 568 L491.5 577.5 L492.9 571.9 L494.2 597 L495.5 585 L496.9 593.9 L498.2 592.4 L499.5 591.9 L500.9 572.6 L502.2 573.7 L503.6 590.6 L504.9 575.4 L506.2 591 L507.6 582.8 L508.9 578.3 L510.2 595 L511.6 593.5 L512.9 573.9 L514.2 571 L515.6 582.5 L516.9 597.6 L518.3 590.3 L519.6 594.3 L520.9 579.7 L522.3 597 L523.6 579.1 L524.9 569.7 L526.3 574.8 L527.6 567 L529 576.7 L530.3 589.8 L531.6 590.7 L533 598.5 L534.3 581.7 L535.6 584.6 L537 574.8 L538.3 587.6 L539.7 586.8 L541 585.6 L542.3 567 L543.7 593.3 L545 563.4 L546.3 567.2 L547.7 587.6 L549 597 L550.4 580.8 L551.7 586.8 L553 590.3 L554.4 573.9 L555.7 571.2 L557 592.9 L558.4 590.2 L559.7 583.5 L561.1 589.6 L562.4 581.1 L563.7 581.9 L565.1 578.6 L566.4 578.5 L567.7 575.1 L569.1 574.1 L570.4 581.3 L571.8 567 L573.1 584.8 L574.4 598.5 L575.8 573.1 L577.1 585.7 L578.4 577.1 L579.8 585.7 L581.1 591.7 L582.4 590.3 L583.8 575.6 L585.1 572.8 L586.5 592.4 L587.8 591 L589.1 573.6 L590.5 592.3 L591.8 588.2 L593.1 580.7 L594.5 581.6 L595.8 575.6 L597.2 592.7 L598.5 575.1 L599.8 562.4 L601.2 585 L602.5 576.2 L603.8 579.5 L605.2 562.8 L606.5 587.9 L607.9 575.7 L609.2 581.4 L610.5 587.5 L611.9 586 L613.2 585.4 L614.5 589.8 L615.9 597 L617.2 563.4 L618.6 591.1 L619.9 580.5 L621.2 577.1 L622.6 597 L623.9 567 L625.2 597 L626.6 582.1 L627.9 581 L629.3 576.7 L630.6 584.8 L631.9 568.9 L633.3 574.2 L634.6 587.8 L635.9 588.3 L637.3 580.8 L638.6 585.7 L640 578.6 L641.3 583.7 L642.6 581.6 L644 575.6 L645.3 567 L646.6 583.2 L648 579.2 L649.3 583 L650.6 577.2 L652 579.5 L653.3 574.2 L654.7 572.7 L656 579 L657.3 583 L658.7 585.2 L660 584.4 L661.3 587.6 L662.7 574 L664 580.7 L665.4 588.2 L666.7 578.9 L668 582 L669.4 577 L670.7 595.2 L672 581.3 L673.4 611 L674.7 571.5 L676.1 580.5 L677.4 587.1 L678.7 576.2 L680.1 583.3 L681.4 585.9 L682.7 569 L684.1 579.3 L685.4 583.4 L686.8 577.8 L688.1 583.5 L689.4 576 L690.8 591.1 L692.1 569.2 L693.4 592 L694.8 595.4 L696.1 585.8 L697.5 594.2 L698.8 587.2 L700.1 597 L701.5 585.2 L702.8 579.8 L704.1 564 L705.5 571.2 L706.8 570.7 L708.2 586.8 L709.5 598 L710.8 586 L712.2 588.4 L713.5 575.2" fill="none" stroke="#118DFF" stroke-width="2.3" stroke-linejoin="round" stroke-linecap="round"/><path d="M225.4 580.9 L226.7 579.7 L228.1 587 L229.4 583.4 L230.7 582.2 L232.1 581.9 L233.4 581.6 L234.8 582.6 L236.1 585.3 L237.4 581.7 L238.8 583.8 L240.1 584.8 L241.4 585.6 L242.8 584.3 L244.1 584.6 L245.5 582.7 L246.8 585.1 L248.1 584.6 L249.5 584.3 L250.8 584.1 L252.1 587.4 L253.5 585.3 L254.8 585.1 L256.2 582.3 L257.5 581.9 L258.8 581.7 L260.2 582.6 L261.5 582.8 L262.8 584.1 L264.2 584.3 L265.5 584.7 L266.9 584.1 L268.2 584.9 L269.5 584.1 L270.9 581.3 L272.2 581.2 L273.5 581.3 L274.9 583.3 L276.2 581.5 L277.6 580.8 L278.9 580.4 L280.2 581.3 L281.6 581 L282.9 582.1 L284.2 581.8 L285.6 583 L286.9 582.5 L288.3 584.7 L289.6 585.8 L290.9 584.5 L292.3 583 L293.6 582.3 L294.9 584.8 L296.3 585.4 L297.6 583.3 L298.9 585.2 L300.3 588.4 L301.6 586.5 L303 587.5 L304.3 586.5 L305.6 585.6 L307 584.6 L308.3 583 L309.6 581.7 L311 585.1 L312.3 583.6 L313.7 584.2 L315 586.6 L316.3 588.3 L317.7 588.4 L319 589.7 L320.3 588 L321.7 590.5 L323 591.7 L324.4 590.2 L325.7 588.6 L327 588.4 L328.4 587.5 L329.7 587.8 L331 587.6 L332.4 586.8 L333.7 584.6 L335.1 584.4 L336.4 583.7 L337.7 583.8 L339.1 585 L340.4 584.2 L341.7 584.9 L343.1 587.4 L344.4 590.1 L345.8 591.1 L347.1 592 L348.4 591.3 L349.8 590.1 L351.1 587.8 L352.4 587.4 L353.8 585.1 L355.1 583.3 L356.5 581.9 L357.8 580.3 L359.1 579.7 L360.5 578 L361.8 578.5 L363.1 577.9 L364.5 579.7 L365.8 579.1 L367.1 581.3 L368.5 582.7 L369.8 584.5 L371.2 584.8 L372.5 586.5 L373.8 586.4 L375.2 587.3 L376.5 584 L377.8 583.7 L379.2 584.7 L380.5 586 L381.9 584.5 L383.2 583.3 L384.5 582.5 L385.9 584.9 L387.2 585.8 L388.5 586.5 L389.9 586.2 L391.2 587.2 L392.6 587.7 L393.9 587.7 L395.2 585.5 L396.6 584.5 L397.9 584.9 L399.2 581.2 L400.6 582.5 L401.9 581.5 L403.3 581.5 L404.6 581.1 L405.9 580.3 L407.3 578.7 L408.6 579 L409.9 579.3 L411.3 579.7 L412.6 580.8 L414 582.8 L415.3 584.9 L416.6 584.7 L418 585.1 L419.3 583.9 L420.6 584.7 L422 584.8 L423.3 583.2 L424.7 581.1 L426 581.7 L427.3 583.3 L428.7 585.1 L430 585.1 L431.3 584.4 L432.7 585.5 L434 584 L435.3 581.5 L436.7 578.9 L438 576.1 L439.4 576.7 L440.7 577.6 L442 578.3 L443.4 579.4 L444.7 580.1 L446 582.5 L447.4 582 L448.7 581.6 L450.1 580.1 L451.4 580.2 L452.7 580.1 L454.1 581.3 L455.4 581.4 L456.7 582.8 L458.1 581.1 L459.4 580.9 L460.8 579.8 L462.1 582.1 L463.4 581.9 L464.8 583 L466.1 581.5 L467.4 582.8 L468.8 580.8 L470.1 582.2 L471.5 581.1 L472.8 582.1 L474.1 580.9 L475.5 580.2 L476.8 581.3 L478.1 584.8 L479.5 586.5 L480.8 587.6 L482.2 585.8 L483.5 584.7 L484.8 584.9 L486.2 582.3 L487.5 581 L488.8 580 L490.2 576.7 L491.5 577 L492.9 576.4 L494.2 580.2 L495.5 581.1 L496.9 583.3 L498.2 583.7 L499.5 587.1 L500.9 586.4 L502.2 586.6 L503.6 585.7 L504.9 584.3 L506.2 583.9 L507.6 582.6 L508.9 580.6 L510.2 583.8 L511.6 586.7 L512.9 584.3 L514.2 583.6 L515.6 582.4 L516.9 584.5 L518.3 586.2 L519.6 586.1 L520.9 584.2 L522.3 587.5 L523.6 588.6 L524.9 586.8 L526.3 583.6 L527.6 580.2 L529 577.7 L530.3 579.2 L531.6 578.3 L533 581 L534.3 582.8 L535.6 584.1 L537 585.3 L538.3 586.8 L539.7 586.4 L541 585.7 L542.3 581.2 L543.7 582.8 L545 579.8 L546.3 578.7 L547.7 578.7 L549 580.2 L550.4 579.5 L551.7 582.3 L553 581.9 L554.4 583.4 L555.7 583.9 L557 584.7 L558.4 583.7 L559.7 584.1 L561.1 584.5 L562.4 583.2 L563.7 584.3 L565.1 585.4 L566.4 583.3 L567.7 581.2 L569.1 579.8 L570.4 578.6 L571.8 576.6 L573.1 577 L574.4 579.9 L575.8 579.1 L577.1 580.6 L578.4 581.1 L579.8 581.7 L581.1 585.2 L582.4 586 L583.8 582.7 L585.1 582.7 L586.5 583.7 L587.8 585.6 L589.1 583.9 L590.5 584 L591.8 583.7 L593.1 584.4 L594.5 585.7 L595.8 583.3 L597.2 583.5 L598.5 583.7 L599.8 579.5 L601.2 579 L602.5 578.4 L603.8 578.1 L605.2 576.2 L606.5 575.5 L607.9 575.6 L609.2 578.3 L610.5 578.7 L611.9 580.1 L613.2 581 L614.5 584.8 L615.9 586.1 L617.2 584.4 L618.6 585.7 L619.9 584.7 L621.2 583.5 L622.6 585.1 L623.9 581.9 L625.2 581.9 L626.6 584.5 L627.9 583.1 L629.3 582.6 L630.6 583.7 L631.9 579.6 L633.3 580.7 L634.6 579.4 L635.9 580.2 L637.3 580.2 L638.6 581.5 L640 580.6 L641.3 582.7 L642.6 583.8 L644 582 L645.3 579 L646.6 579.4 L648 578.4 L649.3 579 L650.6 578.1 L652 577.8 L653.3 577.6 L654.7 578.4 L656 577.8 L657.3 578.4 L658.7 578.7 L660 579.7 L661.3 580.9 L662.7 580.9 L664 582 L665.4 583.3 L666.7 582.7 L668 582.2 L669.4 581.2 L670.7 582.3 L672 583.3 L673.4 587.7 L674.7 585.3 L676.1 585.5 L677.4 586.2 L678.7 586.1 L680.1 584.4 L681.4 585.1 L682.7 579.1 L684.1 580.2 L685.4 580.6 L686.8 579.3 L688.1 580.3 L689.4 579.3 L690.8 580 L692.1 580 L693.4 581.9 L694.8 583.6 L696.1 584.7 L697.5 586.2 L698.8 587.8 L700.1 588.7 L701.5 591 L702.8 589.2 L704.1 584.7 L705.5 582.7 L706.8 579.3 L708.2 579.3 L709.5 579.4 L710.8 579.5 L712.2 580.7 L713.5 582.3" fill="none" stroke="#12239E" stroke-width="2.9" stroke-linejoin="round" stroke-linecap="round"/></svg>
<div class="t" style="left:460.6px;top:639px;font-size:8.6px;transform-origin:0 0;transform:scaleX(0.9143);color:#252423;">Date</div>
<svg style="left:0;top:0" width="1366" height="727"><circle cx="184" cy="533.700" r="3.900" fill="#118DFF"/><circle cx="213.700" cy="533.700" r="3.900" fill="#12239E"/></svg>
<div class="t" style="left:189.7px;top:530px;font-size:9.3px;transform-origin:0 0;transform:scaleX(0.7994);color:#605e5c;">OEE</div>
<div class="t" style="left:218.9px;top:530px;font-size:9.3px;transform-origin:0 0;transform:scaleX(0.9276);color:#605e5c;">OEE 7 Day Rolling</div>
<div class="vbox" style="left:748.1px;top:320.4px;width:381.6px;height:152.3px;box-shadow:inset 0 0 0 1.75px #050505"></div>
<div class="t" style="left:755.7px;top:326px;font-size:12px;letter-spacing:0.05px;color:#252423;-webkit-text-stroke:.1px #252423;">OEE by Plant</div>
<div class="t" style="font-size:8.6px;color:#252423;left:755.92px;top:403.2px;transform-origin:0 0;transform:rotate(-90deg) scaleX(0.9085);">Plant</div>
<div class="t" style="left:801.4px;top:445px;font-size:9.2px;transform-origin:0 0;transform:scaleX(0.9336);color:#605e5c;">0%</div>
<div class="t" style="left:875.5px;top:445px;font-size:9.2px;transform-origin:0 0;transform:scaleX(0.9353);color:#605e5c;">20%</div>
<div class="t" style="left:952px;top:445px;font-size:9.2px;transform-origin:0 0;transform:scaleX(0.9353);color:#605e5c;">40%</div>
<div class="t" style="left:1028.5px;top:445px;font-size:9.2px;transform-origin:0 0;transform:scaleX(0.9353);color:#605e5c;">60%</div>
<div class="t" style="left:1105px;top:445px;font-size:9.2px;transform-origin:0 0;transform:scaleX(0.9353);color:#605e5c;">80%</div>
<div class="t" style="left:772.4px;top:365px;font-size:9.2px;transform-origin:0 0;transform:scaleX(0.9389);color:#605e5c;">Plant C</div>
<div class="t" style="left:772.4px;top:390px;font-size:9.2px;transform-origin:0 0;transform:scaleX(0.9717);color:#605e5c;">Plant A</div>
<div class="t" style="left:772.4px;top:416px;font-size:9.2px;transform-origin:0 0;transform:scaleX(0.9553);color:#605e5c;">Plant B</div>
<svg style="left:0;top:0" width="1366" height="727"><path d="M807.5 347.3V441" stroke="#c8c6c4" stroke-width="1" stroke-dasharray="1 3.600" fill="none"/><path d="M884.5 347.3V441" stroke="#c8c6c4" stroke-width="1" stroke-dasharray="1 3.600" fill="none"/><path d="M960.5 347.3V441" stroke="#c8c6c4" stroke-width="1" stroke-dasharray="1 3.600" fill="none"/><path d="M1037.5 347.3V441" stroke="#c8c6c4" stroke-width="1" stroke-dasharray="1 3.600" fill="none"/><path d="M1113.5 347.3V441" stroke="#c8c6c4" stroke-width="1" stroke-dasharray="1 3.600" fill="none"/><rect x="807.600" y="358.2" width="276" height="19.600" fill="#118DFF"/><rect x="807.600" y="383.75" width="274.6" height="19.600" fill="#118DFF"/><rect x="807.600" y="409.3" width="274.4" height="19.600" fill="#118DFF"/></svg>
<div class="t" style="left:953.1px;top:457px;font-size:8.6px;transform-origin:0 0;transform:scaleX(0.7931);color:#252423;">OEE</div>
<div class="vbox" style="left:748.1px;top:478.4px;width:381.6px;height:178.2px;box-shadow:inset 0 0 0 1.75px #050505"></div>
<div class="t" style="left:755.7px;top:484px;font-size:12px;letter-spacing:0.05px;color:#252423;-webkit-text-stroke:.1px #252423;">OEE by Shift</div>
<div class="t" style="font-size:8.6px;color:#252423;left:756.02px;top:572.7px;transform-origin:0 0;transform:rotate(-90deg) scaleX(0.7876);">OEE</div>
<div class="t" style="left:768.8px;top:504px;font-size:9.2px;transform-origin:0 0;transform:scaleX(0.9624);color:#605e5c;">80%</div>
<div class="t" style="left:768.8px;top:532px;font-size:9.2px;transform-origin:0 0;transform:scaleX(0.9624);color:#605e5c;">60%</div>
<div class="t" style="left:768.8px;top:561px;font-size:9.2px;transform-origin:0 0;transform:scaleX(0.9624);color:#605e5c;">40%</div>
<div class="t" style="left:768.8px;top:590px;font-size:9.2px;transform-origin:0 0;transform:scaleX(0.9624);color:#605e5c;">20%</div>
<div class="t" style="left:773.8px;top:619px;font-size:9.2px;transform-origin:0 0;transform:scaleX(0.9562);color:#605e5c;">0%</div>
<div class="t" style="left:855.5px;top:629px;font-size:9.2px;transform-origin:0 0;transform:scaleX(1.0535);color:#605e5c;">Night</div>
<div class="t" style="left:936.85px;top:629px;font-size:9.2px;transform-origin:0 0;transform:scaleX(1.0416);color:#605e5c;">Afternoon</div>
<div class="t" style="left:1031.85px;top:629px;font-size:9.2px;transform-origin:0 0;transform:scaleX(1.0391);color:#605e5c;">Morning</div>
<svg style="left:0;top:0" width="1366" height="727"><path d="M793.4 507.5H1123.6" stroke="#c8c6c4" stroke-width="1" stroke-dasharray="1 3.600" fill="none"/><path d="M793.4 536.5H1123.6" stroke="#c8c6c4" stroke-width="1" stroke-dasharray="1 3.600" fill="none"/><path d="M793.4 565.5H1123.6" stroke="#c8c6c4" stroke-width="1" stroke-dasharray="1 3.600" fill="none"/><path d="M793.4 594.5H1123.6" stroke="#c8c6c4" stroke-width="1" stroke-dasharray="1 3.600" fill="none"/><path d="M793.4 623.5H1123.6" stroke="#c8c6c4" stroke-width="1" stroke-dasharray="1 3.600" fill="none"/><rect x="830.5" y="518.3" width="69.3" height="105" fill="#118DFF"/><rect x="921.6" y="518.3" width="69.3" height="105" fill="#118DFF"/><rect x="1012.8" y="518.9" width="69.3" height="104.4" fill="#118DFF"/></svg>
<div class="t" style="left:949.4px;top:641px;font-size:8.6px;letter-spacing:-0.05px;color:#252423;">Shift</div>
</div>
<div id="ribshadow" class="a"></div>
</body></html>
